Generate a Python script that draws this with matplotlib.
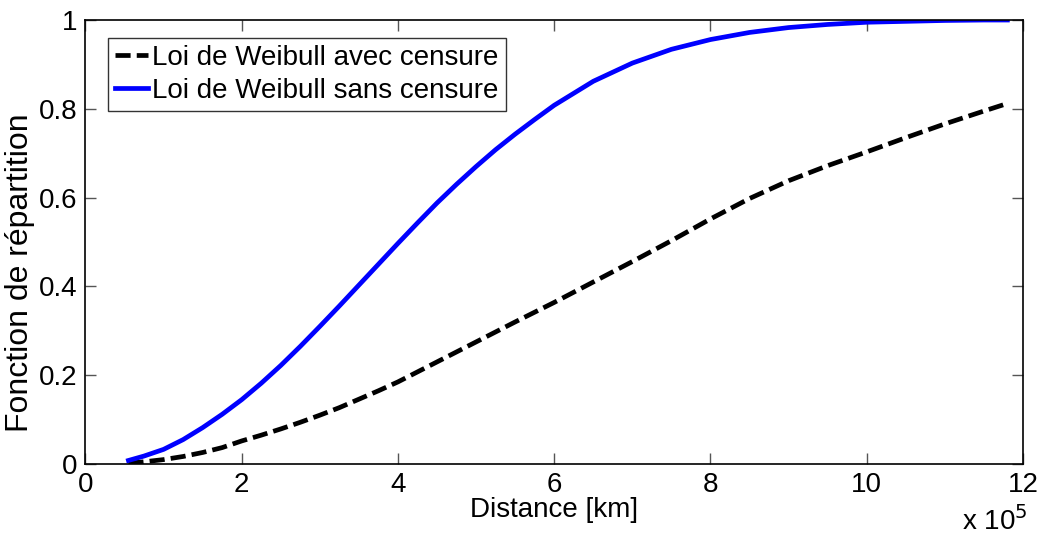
import matplotlib

matplotlib.use('Agg')
import matplotlib.pyplot as plt

plt.rcParams['font.family'] = ['Liberation Sans', 'DejaVu Sans']

# distance in units of 1e5 km
dist_sans = [0.55, 0.75, 1.0, 1.25, 1.5, 1.75, 2.0, 2.25, 2.5, 2.75, 3.0,
             3.25, 3.5, 3.75, 4.0, 4.25, 4.5, 4.75, 5.0, 5.25, 5.5, 5.75,
             6.0, 6.5, 7.0, 7.5, 8.0, 8.5, 9.0, 9.5, 10.0, 10.5, 11.0,
             11.5, 11.8]
cdf_sans = [0.008, 0.018, 0.033, 0.055, 0.082, 0.112, 0.145, 0.182, 0.222,
            0.265, 0.310, 0.356, 0.403, 0.450, 0.497, 0.543, 0.588, 0.630,
            0.670, 0.708, 0.743, 0.776, 0.808, 0.862, 0.903, 0.934, 0.956,
            0.972, 0.983, 0.990, 0.995, 0.997, 0.999, 1.000, 1.000]

dist_censure = [0.55, 0.75, 1.0, 1.25, 1.5, 1.75, 2.0, 2.25, 2.5, 2.75,
                3.0, 3.25, 3.5, 3.75, 4.0, 4.5, 5.0, 5.5, 6.0, 6.5, 7.0,
                7.5, 8.0, 8.5, 9.0, 9.5, 10.0, 10.5, 11.0, 11.5, 11.8]
cdf_censure = [0.002, 0.005, 0.010, 0.017, 0.026, 0.037, 0.052, 0.065,
               0.079, 0.094, 0.110, 0.127, 0.146, 0.165, 0.185, 0.230,
               0.275, 0.320, 0.364, 0.410, 0.456, 0.503, 0.552, 0.598,
               0.638, 0.672, 0.703, 0.735, 0.766, 0.795, 0.812]

x_ticks = [0, 2, 4, 6, 8, 10, 12]
y_ticks = [0, 0.2, 0.4, 0.6, 0.8, 1]
y_tick_labels = ['0', '0.2', '0.4', '0.6', '0.8', '1']

FS = 20

fig = plt.figure(figsize=(10.41, 5.38), dpi=100)
ax = fig.add_axes([0.0821, 0.1375, 0.9006, 0.8253])

ax.plot([d * 1e5 for d in dist_censure], cdf_censure, color='black', lw=3.4,
        dashes=(3.2, 1.3), label='Loi de Weibull avec censure')
ax.plot([d * 1e5 for d in dist_sans], cdf_sans, color='#0000ff', lw=3.4,
        label='Loi de Weibull sans censure')

ax.set_xlim(0, 12e5)
ax.set_ylim(0, 1)
ax.set_xticks([t * 1e5 for t in x_ticks])
ax.set_xticklabels([str(t) for t in x_ticks])
ax.set_yticks(y_ticks)
ax.set_yticklabels(y_tick_labels)
ax.tick_params(direction='in', length=8, width=1, color='#555555',
               top=True, right=True, labelsize=FS, pad=6)
for sp in ax.spines.values():
    sp.set_linewidth(1.2)

ax.set_xlabel('Distance [km]', fontsize=FS)
ax.xaxis.set_label_coords(0.5, -0.075)
ax.set_ylabel('Fonction de répartition', fontsize=23)
ax.yaxis.set_label_coords(-0.054, 0.432)
ax.text(1.005, -0.148, r'x 10$^{5}$', transform=ax.transAxes, ha='right',
        va='baseline', fontsize=FS)

leg = ax.legend(loc='upper left', bbox_to_anchor=(0.024, 0.9595), fontsize=FS,
                frameon=True, fancybox=False, edgecolor='black',
                handlelength=1.2, handletextpad=0.15, borderpad=0.25,
                labelspacing=0.25, borderaxespad=0)
leg.get_frame().set_linewidth(1.0)

fig.savefig('out.png', dpi=100)
plt.close(fig)
